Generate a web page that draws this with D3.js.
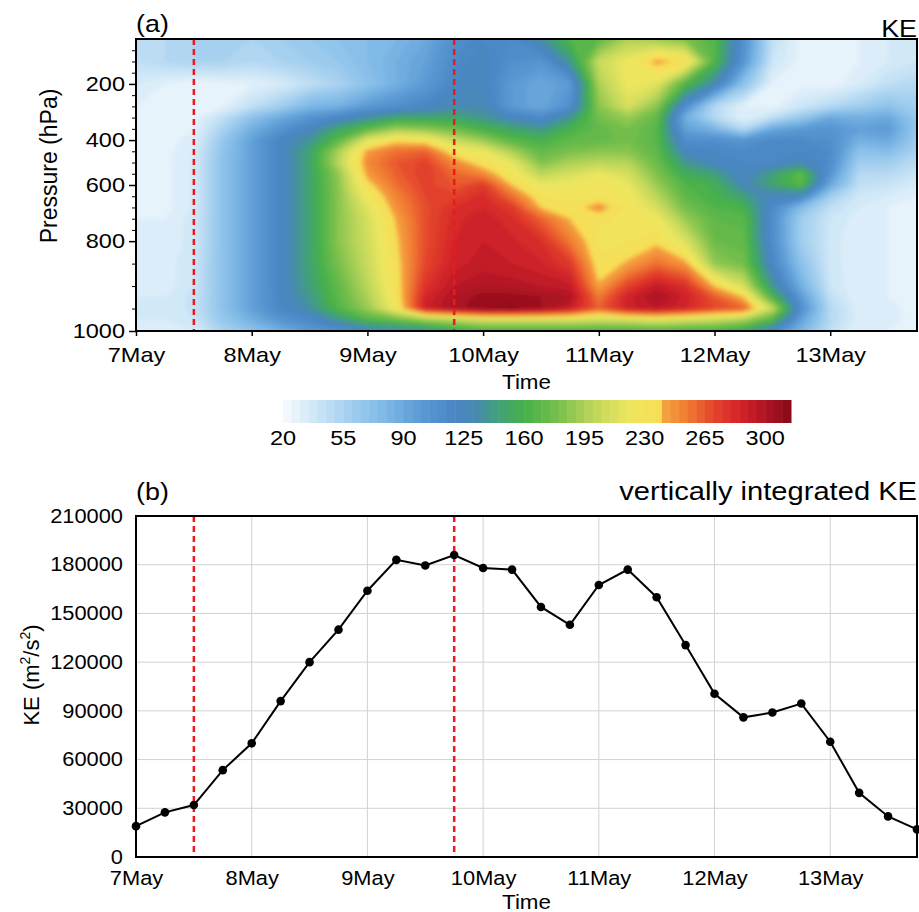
<!DOCTYPE html>
<html><head><meta charset="utf-8">
<script src="https://cdn.jsdelivr.net/npm/d3@7"></script>
<style>
html,body{margin:0;padding:0;background:#fff;}
svg{display:block;font-family:"Liberation Sans",Arial,Helvetica,sans-serif;}
</style></head><body>
<svg id="chart" width="919" height="912"></svg>
<script>
// ---------------- DATA ----------------
const times = [
 "2016-05-07T00","2016-05-07T06","2016-05-07T12","2016-05-07T18",
 "2016-05-08T00","2016-05-08T06","2016-05-08T12","2016-05-08T18",
 "2016-05-09T00","2016-05-09T06","2016-05-09T12","2016-05-09T18",
 "2016-05-10T00","2016-05-10T06","2016-05-10T12","2016-05-10T18",
 "2016-05-11T00","2016-05-11T06","2016-05-11T12","2016-05-11T18",
 "2016-05-12T00","2016-05-12T06","2016-05-12T12","2016-05-12T18",
 "2016-05-13T00","2016-05-13T06","2016-05-13T12","2016-05-13T18"];
const dayTicks = ["2016-05-07T00","2016-05-08T00","2016-05-09T00","2016-05-10T00",
                  "2016-05-11T00","2016-05-12T00","2016-05-13T00"];
const eventTimes = ["2016-05-07T12","2016-05-09T18"];

// vertically integrated KE (m2/s2), 6-hourly
const integratedKE = [19000,27500,32000,53500,70000,96000,120000,140000,164000,183000,179500,186000,
  178000,177000,154000,143000,167500,177000,160000,130500,100500,86000,89000,94500,71000,39500,25000,17000];

// KE cross-section (m2/s2) rows by pressure level (hPa), columns = times
const keLevels = [100,150,200,250,300,350,400,450,500,550,600,650,700,750,800,850,900,925,950,975,1000];
const ke100  = [45,50,55,60,55,60,65,70,75,80,90,110,120,115,135,165,170,195,190,180,165,110,45,28,26,30,35,35];
const ke150  = [45,50,55,55,50,55,60,65,75,85,95,115,125,110,105,140,205,222,245,235,165,105,40,28,26,30,35,40];
const ke200  = [35,30,25,28,30,35,45,55,70,85,100,120,125,100,90,100,195,222,215,165,130,70,30,28,26,35,45,50];
const ke250  = [30,28,25,30,45,60,80,85,100,110,120,130,130,100,90,110,185,210,185,110,50,30,28,40,50,60,70,60];
const ke300  = [28,26,28,45,70,90,105,120,135,150,150,150,140,125,115,140,178,190,172,85,50,30,45,65,90,85,90,65];
const ke350  = [28,26,30,55,85,105,125,150,170,190,185,175,160,150,140,160,172,180,168,95,80,50,90,100,105,95,100,65];
const ke400  = [28,28,32,65,95,122,138,170,215,235,230,205,190,168,160,170,172,178,168,110,110,105,115,115,110,85,90,62];
const ke450  = [28,28,35,68,95,122,148,195,245,258,262,230,220,195,172,180,185,185,170,125,120,115,118,120,115,70,75,55];
const ke500  = [28,28,36,70,95,122,148,200,250,265,272,250,232,218,182,195,200,198,175,140,125,120,120,128,112,60,60,48];
const ke550  = [28,28,36,70,95,122,148,188,245,262,275,260,250,228,200,210,220,210,182,155,145,122,145,172,105,50,50,40];
const ke600  = [28,28,36,70,95,122,148,186,235,258,272,265,275,240,220,222,226,220,190,165,158,128,148,168,90,45,42,35];
const ke650  = [28,28,36,70,95,122,148,185,225,252,270,272,282,258,230,228,230,225,200,170,160,145,125,120,60,38,35,30];
const ke700  = [28,28,36,70,95,122,148,185,215,248,268,280,285,275,240,232,248,228,210,178,165,160,115,75,45,35,30,28];
const ke750  = [30,30,38,70,95,122,148,185,210,242,268,283,288,282,262,240,232,228,222,190,170,168,112,60,40,32,30,28];
const ke800  = [30,30,38,70,95,122,148,185,208,238,268,285,290,286,280,255,228,230,236,212,175,172,112,60,38,30,30,28];
const ke850  = [32,32,40,70,95,122,148,180,205,235,270,288,292,290,286,275,232,242,258,245,188,178,120,70,38,30,30,28];
const ke900  = [32,32,40,70,95,122,145,172,200,232,278,295,300,298,295,292,242,272,292,280,240,210,140,85,40,30,30,28];
const ke925  = [35,35,42,70,95,120,140,170,195,230,285,300,308,308,305,300,255,287,302,288,265,240,165,100,45,30,30,28];
const ke950  = [35,35,42,70,95,118,135,165,190,225,288,302,310,312,305,290,262,288,295,285,270,262,205,110,50,32,32,28];
const ke975  = [35,35,40,65,85,105,118,140,165,175,190,200,210,210,210,212,208,210,215,210,205,195,165,95,50,32,32,28];
const ke1000 = [30,30,35,55,70,85,100,110,120,128,135,150,160,160,160,160,160,160,165,160,160,150,120,80,45,30,30,28];
const keRows = [ke100,ke150,ke200,ke250,ke300,ke350,ke400,ke450,ke500,ke550,ke600,ke650,ke700,ke750,
                ke800,ke850,ke900,ke925,ke950,ke975,ke1000];

// axis definitions
const pressureAxisLevels = [1000,975,950,925,900,875,850,825,800,775,750,700,650,600,550,500,450,400,350,300,250,225,200,175,150,125,100];
const pressureTicks = [200,400,600,800,1000];
const pressureMinorTicks = [125,150,175,225,250,300,350,450,500,550,650,700,750,775,850,900,950];
const colorbarTicks = [20,55,90,125,160,195,230,265,300];
const keAxisTicks = [0,30000,60000,90000,120000,150000,180000,210000];

// colour map stops
const cmapValues = [20,40,60,80,100,120,130,145,160,180,200,220,238,240,255,270,285,300,315];
const cmapColors = ["#f8fbfe","#cbe5f6","#9fcdee","#7cb7e5","#5a99d4","#4a86c4","#4888b6","#42a07a",
  "#46b04a","#78bf4c","#bdd65a","#ece65f","#f7de57","#f6a843","#f07a31","#e4442c","#d4242a","#b01424","#860a18"];

// ---------------- LAYOUT ----------------
const X0 = 136, X1 = 917;
const TOP = {y0: 39, y1: 331};
const BOT = {y0: 516, y1: 857};
const CB = {x0: 283, x1: 791, y0: 400, y1: 423};
const SX = 1.12;  // horizontal text stretch

const svg = d3.select("#chart");
const parseT = d3.utcParse("%Y-%m-%dT%H");
const fmtDay = d3.utcFormat("%-d%b");
const tDates = times.map(parseT);
const dayDates = dayTicks.map(parseT);
const eventDates = eventTimes.map(parseT);

const x = d3.scaleUtc().domain([tDates[0], tDates[tDates.length - 1]]).range([X0, X1]);

// pressure axis: levels evenly spaced by index
const yIdx = d3.scaleLinear().domain([0, pressureAxisLevels.length - 1]).range([TOP.y1, TOP.y0]);
const yP = d3.scaleLinear().domain(pressureAxisLevels).range(pressureAxisLevels.map((d, k) => yIdx(k)));

const colourScale = d3.scaleLinear().domain(cmapValues).range(cmapColors).interpolate(d3.interpolateRgb).clamp(true);
const step = 5;
const thresholds = d3.range(20, 315, step);
const bandColour = t => colourScale(t + step / 2);

function stretchText(g, s, xx, yy, size, anchor) {
  return g.append("text")
    .attr("transform", `translate(${xx},${yy}) scale(${SX},1)`)
    .attr("text-anchor", anchor).attr("font-size", size).attr("fill", "#000").text(s);
}

const defs = svg.append("defs");
defs.append("clipPath").attr("id", "clipTop").append("rect")
  .attr("x", X0).attr("y", TOP.y0).attr("width", X1 - X0).attr("height", TOP.y1 - TOP.y0);
const blur = defs.append("filter").attr("id", "soft").attr("x", "-5%").attr("y", "-5%").attr("width", "110%").attr("height", "110%");
blur.append("feGaussianBlur").attr("stdDeviation", 1.9);

// ---------------- PANEL (a) ----------------
const nx = times.length, ny = keLevels.length;
const flat = [];
keRows.forEach(row => row.forEach(v => flat.push(v)));
const contours = d3.contours().size([nx, ny]).thresholds(thresholds)(flat);
const colX = d3.scaleLinear().domain([0, nx - 1]).range([x(tDates[0]), x(tDates[nx - 1])]);
const rowY = d3.scaleLinear().domain(keLevels.map((d, j) => j)).range(keLevels.map(p => yP(p)));
const geo = d3.geoPath();
function project(g) {
  return {type: "MultiPolygon",
    coordinates: g.coordinates.map(poly => poly.map(ring => ring.map(([cx, cy]) => [colX(cx - 0.5), rowY(cy - 0.5)])))};
}
const heat = svg.append("g").attr("clip-path", "url(#clipTop)").append("g").attr("filter", "url(#soft)");
heat.selectAll("path").data(contours).join("path")
  .attr("d", c => geo(project(c)))
  .attr("fill", c => bandColour(c.value))
  .attr("fill-rule", "evenodd");

// event lines (a)
svg.append("g").selectAll("line").data(eventDates).join("line")
  .attr("x1", d => x(d)).attr("x2", d => x(d)).attr("y1", TOP.y0).attr("y2", TOP.y1)
  .attr("stroke", "#ea1a1f").attr("stroke-width", 2.5).attr("stroke-dasharray", "6,4");

// axes (a)
const axA = svg.append("g").attr("transform", `translate(${X0},0)`);
axA.call(d3.axisLeft(yP).tickValues(pressureMinorTicks).tickSize(4).tickFormat(""));
axA.selectAll(".domain").remove();
const axA2 = svg.append("g").attr("transform", `translate(${X0},0)`)
  .call(d3.axisLeft(yP).tickValues(pressureTicks).tickSize(7).tickPadding(4).tickFormat(d3.format("d")));
axA2.selectAll(".domain").remove();
axA2.selectAll("text").attr("font-size", 21).attr("font-family", null).attr("fill", "#000")
  .attr("x", -11 / SX).attr("transform", `scale(${SX},1)`);
axA2.selectAll("line").attr("stroke-width", 1.5);
const axA3 = svg.append("g").attr("transform", `translate(0,${TOP.y1})`)
  .call(d3.axisBottom(x).tickValues(dayDates).tickSize(5).tickPadding(11).tickFormat(fmtDay));
axA3.selectAll(".domain").remove();
axA3.selectAll("text").attr("font-size", 21).attr("font-family", null).attr("fill", "#000").attr("transform", `scale(${SX},1)`);
axA3.selectAll("line").attr("stroke-width", 1.5);
svg.append("rect").attr("x", X0).attr("y", TOP.y0).attr("width", X1 - X0).attr("height", TOP.y1 - TOP.y0)
  .attr("fill", "none").attr("stroke", "#000").attr("stroke-width", 2);

stretchText(svg, "(a)", X0, 32, 24, "start");
stretchText(svg, "KE", X1, 36.5, 24, "end");
stretchText(svg, "Time", (X0 + X1) / 2, 388.5, 20, "middle");
svg.append("text").attr("transform", "translate(57,166) rotate(-90)").attr("text-anchor", "middle")
  .attr("font-size", 23).text("Pressure (hPa)");

// colorbar
const cbX = d3.scaleLinear().domain([20, 315]).range([CB.x0, CB.x1]);
svg.append("g").selectAll("rect").data(thresholds).join("rect")
  .attr("x", d => cbX(d)).attr("y", CB.y0).attr("width", d => cbX(d + step) - cbX(d) + 0.5)
  .attr("height", CB.y1 - CB.y0).attr("fill", d => bandColour(d));
const cbl = svg.append("g");
colorbarTicks.forEach(v => stretchText(cbl, String(v), cbX(v), 445, 21, "middle"));

// ---------------- PANEL (b) ----------------
const yK = d3.scaleLinear().domain([0, 210000]).range([BOT.y1, BOT.y0]);
const grid = svg.append("g").attr("stroke", "#d2d2d2").attr("stroke-width", 1);
grid.selectAll("line.v").data(dayDates.slice(1)).join("line").attr("class", "v")
  .attr("x1", d => x(d)).attr("x2", d => x(d)).attr("y1", BOT.y0).attr("y2", BOT.y1);
grid.selectAll("line.h").data(keAxisTicks.slice(1, -1)).join("line").attr("class", "h")
  .attr("x1", X0).attr("x2", X1).attr("y1", d => yK(d)).attr("y2", d => yK(d));

svg.append("g").selectAll("line").data(eventDates).join("line")
  .attr("x1", d => x(d)).attr("x2", d => x(d)).attr("y1", BOT.y0).attr("y2", BOT.y1)
  .attr("stroke", "#ea1a1f").attr("stroke-width", 2.5).attr("stroke-dasharray", "6,4");

const series = tDates.map((t, i) => ({t, v: integratedKE[i]}));
svg.append("path").datum(series)
  .attr("d", d3.line().x(d => x(d.t)).y(d => yK(d.v)))
  .attr("fill", "none").attr("stroke", "#000").attr("stroke-width", 2);
svg.append("g").selectAll("circle").data(series).join("circle")
  .attr("cx", d => x(d.t)).attr("cy", d => yK(d.v)).attr("r", 4.3).attr("fill", "#000");

const axB1 = svg.append("g").attr("transform", `translate(${X0},0)`)
  .call(d3.axisLeft(yK).tickValues(keAxisTicks).tickSize(0).tickPadding(13).tickFormat(d3.format("d")));
axB1.selectAll(".domain").remove();
axB1.selectAll("text").attr("font-size", 19.5).attr("font-family", null).attr("fill", "#000")
  .attr("x", -13 / SX).attr("transform", `scale(${SX},1)`);
const axB2 = svg.append("g").attr("transform", `translate(0,${BOT.y1})`)
  .call(d3.axisBottom(x).tickValues(dayDates).tickSize(0).tickPadding(14).tickFormat(fmtDay));
axB2.selectAll(".domain").remove();
axB2.selectAll("text").attr("font-size", 19.5).attr("font-family", null).attr("fill", "#000").attr("transform", `scale(${SX},1)`);
svg.append("rect").attr("x", X0).attr("y", BOT.y0).attr("width", X1 - X0).attr("height", BOT.y1 - BOT.y0)
  .attr("fill", "none").attr("stroke", "#000").attr("stroke-width", 2);

stretchText(svg, "(b)", X0, 500, 24, "start");
stretchText(svg, "vertically integrated KE", X1, 500, 26, "end");
stretchText(svg, "Time", (X0 + X1) / 2, 909, 20, "middle");
const kel = svg.append("text").attr("transform", "translate(38.5,675) rotate(-90)").attr("text-anchor", "middle")
  .attr("font-size", 22);
kel.append("tspan").text("KE (m");
kel.append("tspan").attr("font-size", 14).attr("dy", -9).text("2");
kel.append("tspan").attr("dy", 9).text("/s");
kel.append("tspan").attr("font-size", 14).attr("dy", -9).text("2");
kel.append("tspan").attr("dy", 9).text(")");
</script>
</body></html>
